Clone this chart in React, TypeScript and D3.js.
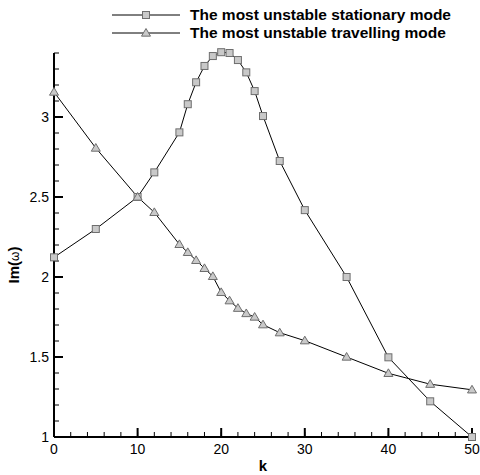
import React from "react";
import * as d3 from "d3";

const stationaryK = [0, 5, 10, 12, 15, 16, 17, 18, 19, 20, 21, 22, 23, 24, 25, 27, 30, 35, 40, 45, 50];
const stationaryIm = [2.123, 2.3, 2.5, 2.654, 2.904, 3.08, 3.217, 3.319, 3.381, 3.405, 3.4, 3.356, 3.279, 3.162, 3.006, 2.725, 2.418, 2.0, 1.498, 1.223, 1.0];
const travellingK = [0, 5, 10, 12, 15, 16, 17, 18, 19, 20, 21, 22, 23, 24, 25, 27, 30, 35, 40, 45, 50];
const travellingIm = [3.156, 2.806, 2.5, 2.404, 2.204, 2.154, 2.104, 2.054, 2.004, 1.904, 1.852, 1.805, 1.772, 1.75, 1.702, 1.652, 1.602, 1.5, 1.398, 1.33, 1.295];
const xMajorTicks = [0, 10, 20, 30, 40, 50];
const yMajorTicks = [1, 1.5, 2, 2.5, 3];
const legendLabels = ["The most unstable stationary mode", "The most unstable travelling mode"];

const W = 480, H = 475;
const x = d3.scaleLinear().domain([0, 50]).range([54, 472]);
const y = d3.scaleLinear().domain([1, 3.4]).range([437, 53]);

const markerFill = "#c9c9c9";
const markerStroke = "#6e6e6e";

function Square({ cx, cy }: { cx: number; cy: number }) {
  return <rect x={cx - 3.5} y={cy - 3.5} width={7} height={7} fill={markerFill} stroke={markerStroke} strokeWidth={1} />;
}
function Tri({ cx, cy }: { cx: number; cy: number }) {
  const s = 4.5;
  const p = `M${cx},${cy - s} L${cx + s},${cy + s * 0.7} L${cx - s},${cy + s * 0.7} Z`;
  return <path d={p} fill={markerFill} stroke={markerStroke} strokeWidth={1} />;
}

export default function App() {
  const line = d3.line<[number, number]>().x((d) => x(d[0])).y((d) => y(d[1]));
  const sPts: [number, number][] = stationaryK.map((k, i) => [k, stationaryIm[i]]);
  const tPts: [number, number][] = travellingK.map((k, i) => [k, travellingIm[i]]);
  const xMinor = d3.range(0, 50.001, 2);
  const yMinor = d3.range(1, 3.4001, 0.1);
  const font = "'Liberation Sans', Arial, sans-serif";
  return (
    <svg width={W} height={H} style={{ position: "absolute", left: 0, top: 0 }} fontFamily={font}>
      <rect width={W} height={H} fill="#fff" />
      {/* minor ticks */}
      {xMinor.map((t) => (
        <line key={"xm" + t} x1={x(t)} x2={x(t)} y1={y(1)} y2={y(1) - 5} stroke="#000" strokeWidth={1} />
      ))}
      {yMinor.map((t) => (
        <line key={"ym" + t} x1={x(0)} x2={x(0) + 5} y1={y(t)} y2={y(t)} stroke="#000" strokeWidth={1} />
      ))}
      {xMajorTicks.map((t) => (
        <g key={"xM" + t}>
          <line x1={x(t)} x2={x(t)} y1={y(1)} y2={y(1) - 9} stroke="#000" strokeWidth={2} />
          <text x={x(t)} y={y(1) + 17} textAnchor="middle" fontSize={14}>{t}</text>
        </g>
      ))}
      {yMajorTicks.map((t) => (
        <g key={"yM" + t}>
          <line x1={x(0)} x2={x(0) + 9} y1={y(t)} y2={y(t)} stroke="#000" strokeWidth={2} />
          <text x={x(0) - 5} y={y(t) + 5} textAnchor="end" fontSize={14}>{t}</text>
        </g>
      ))}
      {/* axes */}
      <line x1={x(0)} x2={x(50)} y1={y(1)} y2={y(1)} stroke="#000" strokeWidth={2} />
      <line x1={x(0)} x2={x(0)} y1={y(1)} y2={y(3.4)} stroke="#000" strokeWidth={2} />
      {/* axis titles */}
      <text x={263} y={471} textAnchor="middle" fontSize={15} fontWeight="bold">k</text>
      <text transform="translate(19,265) rotate(-90)" textAnchor="middle" fontSize={15} fontWeight="bold">
        Im(<tspan fontWeight="normal" fontSize={12}>ω</tspan>)
      </text>
      {/* series */}
      <path d={line(sPts) || ""} fill="none" stroke="#000" strokeWidth={1} />
      <path d={line(tPts) || ""} fill="none" stroke="#000" strokeWidth={1} />
      {sPts.map((p, i) => <Square key={"s" + i} cx={x(p[0])} cy={y(p[1])} />)}
      {tPts.map((p, i) => <Tri key={"t" + i} cx={x(p[0])} cy={y(p[1])} />)}
      {/* legend */}
      <line x1={112} x2={180} y1={15} y2={15} stroke="#000" strokeWidth={1} />
      <Square cx={146} cy={15} />
      <text x={190} y={20} fontSize={15.5} fontWeight="bold">{legendLabels[0]}</text>
      <line x1={112} x2={180} y1={33} y2={33} stroke="#000" strokeWidth={1} />
      <Tri cx={146} cy={33} />
      <text x={190} y={38} fontSize={15.5} fontWeight="bold">{legendLabels[1]}</text>
    </svg>
  );
}
